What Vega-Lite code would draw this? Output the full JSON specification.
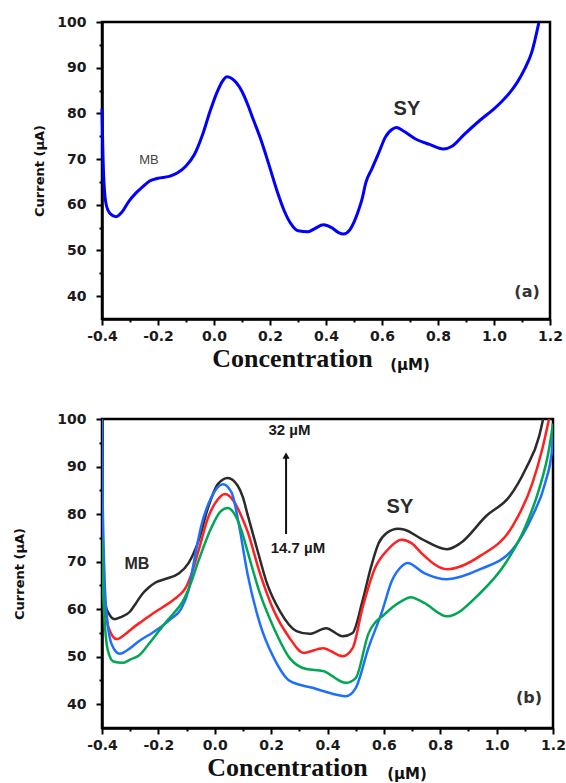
{
  "$schema": "https://vega.github.io/schema/vega-lite/v6.json",
  "background": "white",
  "padding": {"left": 12, "top": 13, "right": 4, "bottom": 0},
  "spacing": 35,
  "config": {
    "view": {"stroke": "#000000", "strokeWidth": 2.5},
    "axis": {
      "grid": false,
      "domainColor": "#000000",
      "domainWidth": 2.5,
      "tickColor": "#000000",
      "tickWidth": 2,
      "labelFont": "DejaVu Sans",
      "labelFontWeight": "bold",
      "labelFontSize": 14,
      "labelColor": "#1a1a1a",
      "labelOverlap": false,
      "labelFlush": false,
      "titleColor": "#111111"
    }
  },
  "datasets": {
    "curveA": [
      {"conc": -0.4, "current": 81}, {"conc": -0.397, "current": 72}, {"conc": -0.393, "current": 65},
      {"conc": -0.385, "current": 60}, {"conc": -0.37, "current": 58}, {"conc": -0.35, "current": 57.4},
      {"conc": -0.33, "current": 58.3}, {"conc": -0.306, "current": 60.6}, {"conc": -0.28, "current": 62.5},
      {"conc": -0.255, "current": 63.9}, {"conc": -0.23, "current": 65.2}, {"conc": -0.2, "current": 65.8},
      {"conc": -0.16, "current": 66.2}, {"conc": -0.13, "current": 67}, {"conc": -0.1, "current": 68.5},
      {"conc": -0.07, "current": 71}, {"conc": -0.04, "current": 75.5}, {"conc": -0.015, "current": 80.3},
      {"conc": 0.01, "current": 84.5}, {"conc": 0.03, "current": 87}, {"conc": 0.046, "current": 88},
      {"conc": 0.062, "current": 87.7}, {"conc": 0.08, "current": 86.7}, {"conc": 0.1, "current": 84.8},
      {"conc": 0.12, "current": 82}, {"conc": 0.14, "current": 78.7}, {"conc": 0.166, "current": 74.5},
      {"conc": 0.19, "current": 70}, {"conc": 0.21, "current": 66}, {"conc": 0.228, "current": 62.5},
      {"conc": 0.25, "current": 58.8}, {"conc": 0.275, "current": 55.8}, {"conc": 0.3, "current": 54.3},
      {"conc": 0.336, "current": 54.1}, {"conc": 0.36, "current": 54.8}, {"conc": 0.391, "current": 55.6},
      {"conc": 0.42, "current": 55}, {"conc": 0.445, "current": 53.9}, {"conc": 0.463, "current": 53.6},
      {"conc": 0.485, "current": 54.5}, {"conc": 0.5, "current": 56.2}, {"conc": 0.515, "current": 58.6},
      {"conc": 0.529, "current": 61.3}, {"conc": 0.542, "current": 64.8}, {"conc": 0.565, "current": 68},
      {"conc": 0.59, "current": 71.6}, {"conc": 0.612, "current": 74.8}, {"conc": 0.638, "current": 76.6},
      {"conc": 0.652, "current": 76.9}, {"conc": 0.675, "current": 76.2}, {"conc": 0.72, "current": 74.4},
      {"conc": 0.77, "current": 73.2}, {"conc": 0.819, "current": 72.2}, {"conc": 0.85, "current": 72.8},
      {"conc": 0.892, "current": 75.3}, {"conc": 0.95, "current": 78.5}, {"conc": 1.0, "current": 81},
      {"conc": 1.026, "current": 82.5}, {"conc": 1.06, "current": 84.8}, {"conc": 1.084, "current": 86.9},
      {"conc": 1.11, "current": 89.8}, {"conc": 1.135, "current": 93.4}, {"conc": 1.16, "current": 99.8}
    ],
    "curvesB": [
      {"series": "32 µM", "conc": -0.4, "current": 69}, {"series": "32 µM", "conc": -0.395, "current": 64.4},
      {"series": "32 µM", "conc": -0.388, "current": 61}, {"series": "32 µM", "conc": -0.375, "current": 59},
      {"series": "32 µM", "conc": -0.355, "current": 57.9}, {"series": "32 µM", "conc": -0.33, "current": 58.4},
      {"series": "32 µM", "conc": -0.302, "current": 59.4}, {"series": "32 µM", "conc": -0.28, "current": 61.2},
      {"series": "32 µM", "conc": -0.257, "current": 63.2}, {"series": "32 µM", "conc": -0.233, "current": 64.6},
      {"series": "32 µM", "conc": -0.21, "current": 65.6}, {"series": "32 µM", "conc": -0.173, "current": 66.4},
      {"series": "32 µM", "conc": -0.128, "current": 67.5}, {"series": "32 µM", "conc": -0.093, "current": 69.7},
      {"series": "32 µM", "conc": -0.058, "current": 74.3}, {"series": "32 µM", "conc": -0.024, "current": 81.3},
      {"series": "32 µM", "conc": 0.011, "current": 86.3}, {"series": "32 µM", "conc": 0.046, "current": 87.6},
      {"series": "32 µM", "conc": 0.081, "current": 86}, {"series": "32 µM", "conc": 0.1, "current": 83.5},
      {"series": "32 µM", "conc": 0.116, "current": 80}, {"series": "32 µM", "conc": 0.151, "current": 72.5},
      {"series": "32 µM", "conc": 0.186, "current": 65.3}, {"series": "32 µM", "conc": 0.231, "current": 59.6},
      {"series": "32 µM", "conc": 0.29, "current": 55.4}, {"series": "32 µM", "conc": 0.336, "current": 54.8},
      {"series": "32 µM", "conc": 0.395, "current": 56}, {"series": "32 µM", "conc": 0.454, "current": 54.3},
      {"series": "32 µM", "conc": 0.489, "current": 55}, {"series": "32 µM", "conc": 0.524, "current": 61.7},
      {"series": "32 µM", "conc": 0.555, "current": 69}, {"series": "32 µM", "conc": 0.581, "current": 73.8},
      {"series": "32 µM", "conc": 0.61, "current": 76}, {"series": "32 µM", "conc": 0.65, "current": 76.9},
      {"series": "32 µM", "conc": 0.674, "current": 76.7}, {"series": "32 µM", "conc": 0.733, "current": 74.8},
      {"series": "32 µM", "conc": 0.824, "current": 72.6}, {"series": "32 µM", "conc": 0.872, "current": 73.9},
      {"series": "32 µM", "conc": 0.963, "current": 79.6}, {"series": "32 µM", "conc": 1.047, "current": 83.8},
      {"series": "32 µM", "conc": 1.103, "current": 89.5}, {"series": "32 µM", "conc": 1.151, "current": 96.4},
      {"series": "32 µM", "conc": 1.165, "current": 100},

      {"series": "26 µM", "conc": -0.4, "current": 80}, {"series": "26 µM", "conc": -0.396, "current": 70},
      {"series": "26 µM", "conc": -0.39, "current": 62}, {"series": "26 µM", "conc": -0.378, "current": 56.3},
      {"series": "26 µM", "conc": -0.348, "current": 53.7}, {"series": "26 µM", "conc": -0.32, "current": 54.6},
      {"series": "26 µM", "conc": -0.292, "current": 56}, {"series": "26 µM", "conc": -0.257, "current": 57.5},
      {"series": "26 µM", "conc": -0.222, "current": 59}, {"series": "26 µM", "conc": -0.185, "current": 60.4},
      {"series": "26 µM", "conc": -0.152, "current": 61.7}, {"series": "26 µM", "conc": -0.125, "current": 63},
      {"series": "26 µM", "conc": -0.104, "current": 64.4}, {"series": "26 µM", "conc": -0.085, "current": 67},
      {"series": "26 µM", "conc": -0.058, "current": 72.2}, {"series": "26 µM", "conc": -0.024, "current": 79.2},
      {"series": "26 µM", "conc": 0.01, "current": 83}, {"series": "26 µM", "conc": 0.036, "current": 84.2},
      {"series": "26 µM", "conc": 0.07, "current": 82.5}, {"series": "26 µM", "conc": 0.095, "current": 79.5},
      {"series": "26 µM", "conc": 0.116, "current": 76.4}, {"series": "26 µM", "conc": 0.161, "current": 67.4},
      {"series": "26 µM", "conc": 0.21, "current": 59.6}, {"series": "26 µM", "conc": 0.266, "current": 53.9},
      {"series": "26 µM", "conc": 0.315, "current": 50.8}, {"series": "26 µM", "conc": 0.384, "current": 51.8},
      {"series": "26 µM", "conc": 0.454, "current": 50.1}, {"series": "26 µM", "conc": 0.489, "current": 51.8},
      {"series": "26 µM", "conc": 0.524, "current": 60.2}, {"series": "26 µM", "conc": 0.569, "current": 68.7},
      {"series": "26 µM", "conc": 0.615, "current": 72.6}, {"series": "26 µM", "conc": 0.663, "current": 74.6},
      {"series": "26 µM", "conc": 0.7, "current": 73.8}, {"series": "26 µM", "conc": 0.733, "current": 71.8},
      {"series": "26 µM", "conc": 0.824, "current": 68.4}, {"series": "26 µM", "conc": 0.942, "current": 71.2},
      {"series": "26 µM", "conc": 1.057, "current": 77.5}, {"series": "26 µM", "conc": 1.127, "current": 86.5},
      {"series": "26 µM", "conc": 1.162, "current": 93.7}, {"series": "26 µM", "conc": 1.186, "current": 100},

      {"series": "20 µM", "conc": -0.4, "current": 100}, {"series": "20 µM", "conc": -0.398, "current": 85},
      {"series": "20 µM", "conc": -0.395, "current": 75}, {"series": "20 µM", "conc": -0.39, "current": 65},
      {"series": "20 µM", "conc": -0.38, "current": 57}, {"series": "20 µM", "conc": -0.365, "current": 52.5},
      {"series": "20 µM", "conc": -0.337, "current": 50.6}, {"series": "20 µM", "conc": -0.3, "current": 51.8},
      {"series": "20 µM", "conc": -0.268, "current": 53.3}, {"series": "20 µM", "conc": -0.222, "current": 55},
      {"series": "20 µM", "conc": -0.19, "current": 56.3}, {"series": "20 µM", "conc": -0.152, "current": 58.1},
      {"series": "20 µM", "conc": -0.12, "current": 60}, {"series": "20 µM", "conc": -0.093, "current": 64},
      {"series": "20 µM", "conc": -0.069, "current": 71.5}, {"series": "20 µM", "conc": -0.048, "current": 77.5},
      {"series": "20 µM", "conc": -0.013, "current": 83.4}, {"series": "20 µM", "conc": 0.029, "current": 86.3},
      {"series": "20 µM", "conc": 0.06, "current": 84.5}, {"series": "20 µM", "conc": 0.085, "current": 78},
      {"series": "20 µM", "conc": 0.116, "current": 67.5}, {"series": "20 µM", "conc": 0.161, "current": 56.8},
      {"series": "20 µM", "conc": 0.21, "current": 49.7}, {"series": "20 µM", "conc": 0.266, "current": 44.9},
      {"series": "20 µM", "conc": 0.35, "current": 43.4}, {"series": "20 µM", "conc": 0.405, "current": 42.4},
      {"series": "20 µM", "conc": 0.465, "current": 41.7}, {"series": "20 µM", "conc": 0.5, "current": 43.4},
      {"series": "20 µM", "conc": 0.545, "current": 51.8}, {"series": "20 µM", "conc": 0.594, "current": 59.6},
      {"series": "20 µM", "conc": 0.628, "current": 65.9}, {"series": "20 µM", "conc": 0.663, "current": 69},
      {"series": "20 µM", "conc": 0.684, "current": 69.7}, {"series": "20 µM", "conc": 0.743, "current": 67.6},
      {"series": "20 µM", "conc": 0.824, "current": 66.3}, {"series": "20 µM", "conc": 0.942, "current": 68.4},
      {"series": "20 µM", "conc": 1.057, "current": 72.6}, {"series": "20 µM", "conc": 1.127, "current": 79.6},
      {"series": "20 µM", "conc": 1.172, "current": 86.5}, {"series": "20 µM", "conc": 1.197, "current": 93.7},
      {"series": "20 µM", "conc": 1.2, "current": 99},

      {"series": "14.7 µM", "conc": -0.4, "current": 75}, {"series": "14.7 µM", "conc": -0.397, "current": 66},
      {"series": "14.7 µM", "conc": -0.39, "current": 57}, {"series": "14.7 µM", "conc": -0.38, "current": 51.5},
      {"series": "14.7 µM", "conc": -0.36, "current": 49}, {"series": "14.7 µM", "conc": -0.327, "current": 48.7},
      {"series": "14.7 µM", "conc": -0.3, "current": 49.4}, {"series": "14.7 µM", "conc": -0.268, "current": 50.3},
      {"series": "14.7 µM", "conc": -0.235, "current": 52.6}, {"series": "14.7 µM", "conc": -0.198, "current": 55.4},
      {"series": "14.7 µM", "conc": -0.17, "current": 57.5}, {"series": "14.7 µM", "conc": -0.139, "current": 59.6},
      {"series": "14.7 µM", "conc": -0.115, "current": 61.5}, {"series": "14.7 µM", "conc": -0.093, "current": 64.2},
      {"series": "14.7 µM", "conc": -0.058, "current": 70.1}, {"series": "14.7 µM", "conc": -0.013, "current": 77},
      {"series": "14.7 µM", "conc": 0.02, "current": 80.5}, {"series": "14.7 µM", "conc": 0.046, "current": 81.3},
      {"series": "14.7 µM", "conc": 0.075, "current": 79.5}, {"series": "14.7 µM", "conc": 0.095, "current": 76.5},
      {"series": "14.7 µM", "conc": 0.116, "current": 72.2}, {"series": "14.7 µM", "conc": 0.161, "current": 63.2},
      {"series": "14.7 µM", "conc": 0.21, "current": 56}, {"series": "14.7 µM", "conc": 0.266, "current": 49.7},
      {"series": "14.7 µM", "conc": 0.325, "current": 47.4}, {"series": "14.7 µM", "conc": 0.384, "current": 47},
      {"series": "14.7 µM", "conc": 0.465, "current": 44.5}, {"series": "14.7 µM", "conc": 0.5, "current": 45.5},
      {"series": "14.7 µM", "conc": 0.545, "current": 54.8}, {"series": "14.7 µM", "conc": 0.604, "current": 59},
      {"series": "14.7 µM", "conc": 0.663, "current": 61.7}, {"series": "14.7 µM", "conc": 0.695, "current": 62.5},
      {"series": "14.7 µM", "conc": 0.743, "current": 61.3}, {"series": "14.7 µM", "conc": 0.824, "current": 58.5},
      {"series": "14.7 µM", "conc": 0.942, "current": 63.4}, {"series": "14.7 µM", "conc": 1.032, "current": 69.7},
      {"series": "14.7 µM", "conc": 1.103, "current": 77.5}, {"series": "14.7 µM", "conc": 1.151, "current": 85.3},
      {"series": "14.7 µM", "conc": 1.186, "current": 93.7}, {"series": "14.7 µM", "conc": 1.2, "current": 99}
    ],
    "notesA": [
      {"label": "MB", "conc": -0.232, "current": 69.8},
      {"label": "SY", "conc": 0.689, "current": 81},
      {"label": "(a)", "conc": 1.118, "current": 41},
      {"label": "(µM)", "conc": 0.7, "current": 35}
    ],
    "notesB": [
      {"label": "MB", "conc": -0.276, "current": 69.6},
      {"label": "SY", "conc": 0.657, "current": 81.5},
      {"label": "32 µM", "conc": 0.265, "current": 97.7},
      {"label": "14.7 µM", "conc": 0.295, "current": 72.8},
      {"label": "(b)", "conc": 1.115, "current": 41.3},
      {"label": "(µM)", "conc": 0.682, "current": 35}
    ],
    "arrowB": [
      {"conc": 0.253, "from": 75.8, "to": 92.3}
    ]
  },
  "vconcat": [
    {
      "width": 448,
      "height": 297,
      "encoding": {
        "x": {
          "field": "conc", "type": "quantitative",
          "scale": {"domain": [-0.4, 1.2], "nice": false, "zero": false},
          "axis": {
            "values": [-0.4, -0.3, -0.2, -0.1, 0, 0.1, 0.2, 0.3, 0.4, 0.5, 0.6, 0.7, 0.8, 0.9, 1, 1.1, 1.2],
            "labelExpr": "round(datum.value * 10) % 2 === 0 ? (datum.value < 0 ? '-' : '') + format(abs(datum.value), '.1f') : ''",
            "tickSize": {"condition": {"test": "round(datum.value * 10) % 2 === 0", "value": 6}, "value": 3},
            "labelPadding": 4,
            "title": "Concentration",
            "titleFont": "Liberation Serif",
            "titleFontSize": 26,
            "titleFontWeight": "bold",
            "titleX": 190,
            "titleAlign": "center",
            "titlePadding": 2
          }
        },
        "y": {
          "field": "current", "type": "quantitative",
          "scale": {"domain": [35, 100], "nice": false, "zero": false},
          "axis": {
            "values": [40, 45, 50, 55, 60, 65, 70, 75, 80, 85, 90, 95, 100],
            "labelExpr": "datum.value % 10 === 0 ? datum.label : ''",
            "tickSize": {"condition": {"test": "datum.value % 10 === 0", "value": 6}, "value": 3},
            "labelPadding": 10,
            "title": "Current (µA)",
            "titleFont": "DejaVu Sans",
            "titleFontSize": 13,
            "titleFontWeight": "bold",
            "titlePadding": 10
          }
        }
      },
      "layer": [
        {
          "data": {"name": "curveA"},
          "mark": {"type": "line", "color": "#0000ff", "strokeWidth": 3, "interpolate": "monotone"}
        },
        {
          "data": {"name": "notesA"},
          "transform": [{"filter": "datum.label === 'MB'"}],
          "mark": {"type": "text", "font": "Liberation Sans", "fontSize": 13, "color": "#444444"},
          "encoding": {"text": {"field": "label"}}
        },
        {
          "data": {"name": "notesA"},
          "transform": [{"filter": "datum.label === 'SY'"}],
          "mark": {"type": "text", "font": "Liberation Sans", "fontSize": 20, "fontWeight": "bold", "color": "#2a2a2a"},
          "encoding": {"text": {"field": "label"}}
        },
        {
          "data": {"name": "notesA"},
          "transform": [{"filter": "datum.label === '(a)'"}],
          "mark": {"type": "text", "font": "DejaVu Sans", "fontSize": 16, "fontWeight": "bold", "color": "#333333"},
          "encoding": {"text": {"field": "label"}}
        },
        {
          "data": {"name": "notesA"},
          "transform": [{"filter": "datum.label === '(µM)'"}],
          "mark": {"type": "text", "font": "DejaVu Sans", "fontSize": 15, "fontWeight": "bold", "color": "#111111", "dy": 46},
          "encoding": {"text": {"field": "label"}}
        }
      ]
    },
    {
      "width": 451,
      "height": 309,
      "encoding": {
        "x": {
          "field": "conc", "type": "quantitative",
          "scale": {"domain": [-0.4, 1.2], "nice": false, "zero": false},
          "axis": {
            "values": [-0.4, -0.3, -0.2, -0.1, 0, 0.1, 0.2, 0.3, 0.4, 0.5, 0.6, 0.7, 0.8, 0.9, 1, 1.1, 1.2],
            "labelExpr": "round(datum.value * 10) % 2 === 0 ? (datum.value < 0 ? '-' : '') + format(abs(datum.value), '.1f') : ''",
            "tickSize": {"condition": {"test": "round(datum.value * 10) % 2 === 0", "value": 6}, "value": 3},
            "labelPadding": 4,
            "title": "Concentration",
            "titleFont": "Liberation Serif",
            "titleFontSize": 26,
            "titleFontWeight": "bold",
            "titleX": 185,
            "titleAlign": "center",
            "titlePadding": 2
          }
        },
        "y": {
          "field": "current", "type": "quantitative",
          "scale": {"domain": [35, 100], "nice": false, "zero": false},
          "axis": {
            "values": [40, 45, 50, 55, 60, 65, 70, 75, 80, 85, 90, 95, 100],
            "labelExpr": "datum.value % 10 === 0 ? datum.label : ''",
            "tickSize": {"condition": {"test": "datum.value % 10 === 0", "value": 6}, "value": 3},
            "labelPadding": 10,
            "title": "Current (µA)",
            "titleFont": "DejaVu Sans",
            "titleFontSize": 13,
            "titleFontWeight": "bold",
            "titlePadding": 30
          }
        }
      },
      "layer": [
        {
          "data": {"name": "curvesB"},
          "mark": {"type": "line", "strokeWidth": 2.5, "interpolate": "monotone", "clip": true},
          "encoding": {
            "color": {
              "field": "series", "type": "nominal", "legend": null,
              "scale": {"domain": ["32 µM", "26 µM", "20 µM", "14.7 µM"], "range": ["#2b2b2b", "#ff2020", "#1f6fff", "#00a651"]}
            }
          }
        },
        {
          "data": {"name": "arrowB"},
          "mark": {"type": "rule", "color": "#111111", "strokeWidth": 2},
          "encoding": {"y": {"field": "from", "type": "quantitative"}, "y2": {"field": "to"}}
        },
        {
          "data": {"name": "arrowB"},
          "mark": {"type": "point", "shape": "triangle-up", "filled": true, "color": "#111111", "size": 50, "opacity": 1},
          "encoding": {"y": {"field": "to", "type": "quantitative"}}
        },
        {
          "data": {"name": "notesB"},
          "transform": [{"filter": "datum.label === 'MB'"}],
          "mark": {"type": "text", "font": "Liberation Sans", "fontSize": 16, "fontWeight": "bold", "color": "#2a2a2a"},
          "encoding": {"text": {"field": "label"}}
        },
        {
          "data": {"name": "notesB"},
          "transform": [{"filter": "datum.label === 'SY'"}],
          "mark": {"type": "text", "font": "Liberation Sans", "fontSize": 20, "fontWeight": "bold", "color": "#2a2a2a"},
          "encoding": {"text": {"field": "label"}}
        },
        {
          "data": {"name": "notesB"},
          "transform": [{"filter": "datum.label === '32 µM' || datum.label === '14.7 µM'"}],
          "mark": {"type": "text", "font": "Liberation Sans", "fontSize": 15, "fontWeight": "bold", "color": "#1a1a1a"},
          "encoding": {"text": {"field": "label"}}
        },
        {
          "data": {"name": "notesB"},
          "transform": [{"filter": "datum.label === '(b)'"}],
          "mark": {"type": "text", "font": "DejaVu Sans", "fontSize": 16, "fontWeight": "bold", "color": "#333333"},
          "encoding": {"text": {"field": "label"}}
        },
        {
          "data": {"name": "notesB"},
          "transform": [{"filter": "datum.label === '(µM)'"}],
          "mark": {"type": "text", "font": "DejaVu Sans", "fontSize": 15, "fontWeight": "bold", "color": "#111111", "dy": 46},
          "encoding": {"text": {"field": "label"}}
        }
      ]
    }
  ]
}
